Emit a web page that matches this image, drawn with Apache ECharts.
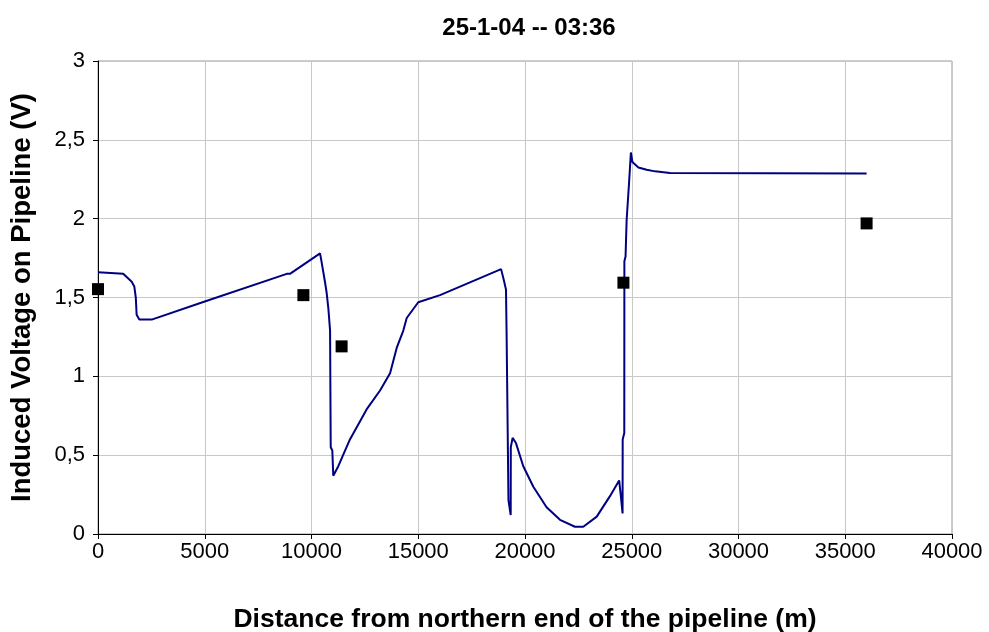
<!DOCTYPE html>
<html>
<head>
<meta charset="utf-8">
<script src="https://cdn.jsdelivr.net/npm/echarts@6/dist/echarts.min.js"></script>
<style>
html,body{margin:0;padding:0;background:#fff;}
#chart{width:989px;height:632px;}
</style>
</head>
<body>
<div id="chart"></div>
<script>
const chartTitle = "25-1-04 -- 03:36";
const xAxisTitle = "Distance from northern end of the pipeline (m)";
const yAxisTitle = "Induced Voltage on Pipeline (V)";

// calculated voltage profile (line)
const lineDistance = [0, 1180, 1580, 1700, 1770, 1810, 1935, 2515, 5000, 8840, 8990, 10400, 10480, 10630, 10710, 10790, 10870, 10900, 10975, 11020, 11255, 11800, 12580, 13210, 13680, 13990, 14300, 14460, 15000, 16020, 18880, 19010, 19110, 19140, 19220, 19225, 19330, 19335, 19420, 19580, 19920, 20390, 21010, 21640, 22340, 22730, 23360, 23980, 24410, 24490, 24570, 24575, 24650, 24655, 24710, 24760, 24840, 24870, 24950, 24960, 25030, 25310, 25700, 26090, 26790, 36000];
const lineVoltage = [1.66, 1.65, 1.60, 1.57, 1.50, 1.39, 1.36, 1.36, 1.475, 1.65, 1.65, 1.78, 1.72, 1.60, 1.53, 1.43, 1.29, 0.55, 0.53, 0.37, 0.43, 0.60, 0.79, 0.91, 1.02, 1.18, 1.29, 1.37, 1.47, 1.515, 1.68, 1.61, 1.55, 1.25, 1.24, 0.215, 0.12, 0.55, 0.61, 0.575, 0.43, 0.30, 0.17, 0.09, 0.046, 0.046, 0.11, 0.24, 0.34, 0.24, 0.13, 0.60, 0.64, 1.73, 1.76, 1.99, 2.00, 2.22, 2.23, 2.42, 2.36, 2.325, 2.31, 2.30, 2.29, 2.287];

// measured points
const measuredDistance = [0, 9620, 11410, 24610, 36000];
const measuredVoltage = [1.553, 1.515, 1.19, 1.594, 1.97];

const yTicks = [0, 0.5, 1, 1.5, 2, 2.5, 3];

const chart = echarts.init(document.getElementById('chart'));
const font = "'Liberation Sans', Arial, sans-serif";
chart.setOption({
  animation: false,
  backgroundColor: '#ffffff',
  title: {
    text: chartTitle,
    left: 524, top: 11, textAlign: 'center',
    textStyle: {fontFamily: font, fontWeight: 'bold', fontSize: 24, color: '#000'}
  },
  grid: {left: 98, right: 37, top: 61, bottom: 98, show: true, borderColor: '#999', borderWidth: 1,
    containLabel: false, outerBoundsMode: 'none'},
  xAxis: {
    type: 'value', min: 0, max: 40000, interval: 5000,
    name: xAxisTitle, nameLocation: 'middle', nameGap: 72,
    nameTextStyle: {fontFamily: font, fontWeight: 'bold', fontSize: 26.5, color: '#000'},
    axisLine: {show: true, lineStyle: {color: '#000', width: 1}},
    axisTick: {show: true, inside: false, length: 5, lineStyle: {color: '#000'}},
    axisLabel: {fontFamily: font, fontSize: 22, color: '#000', margin: 7,
      formatter: v => String(v)},
    splitLine: {show: true, lineStyle: {color: '#c8c8c8', width: 1}}
  },
  yAxis: {
    type: 'value', min: 0, max: 3, interval: 0.5,
    name: yAxisTitle, nameLocation: 'middle', nameGap: 62, nameRotate: 90,
    nameTextStyle: {fontFamily: font, fontWeight: 'bold', fontSize: 27.5, color: '#000'},
    axisLine: {show: true, lineStyle: {color: '#000', width: 1}},
    axisTick: {show: true, inside: false, length: 5, lineStyle: {color: '#000'}},
    axisLabel: {fontFamily: font, fontSize: 22, color: '#000', margin: 13,
      formatter: v => (yTicks.includes(v) ? String(v).replace('.', ',') : '')},
    splitLine: {show: true, lineStyle: {color: '#c8c8c8', width: 1}}
  },
  series: [
    {
      type: 'line', name: 'Calculated',
      data: lineDistance.map((d, i) => [d, lineVoltage[i]]),
      showSymbol: false, symbol: 'none',
      lineStyle: {color: '#000080', width: 2},
      z: 2
    },
    {
      type: 'scatter', name: 'Measured',
      data: measuredDistance.map((d, i) => [d, measuredVoltage[i]]),
      symbol: 'rect', symbolSize: 12,
      itemStyle: {color: '#000', opacity: 1},
      z: 3
    }
  ]
});
</script>
</body>
</html>
